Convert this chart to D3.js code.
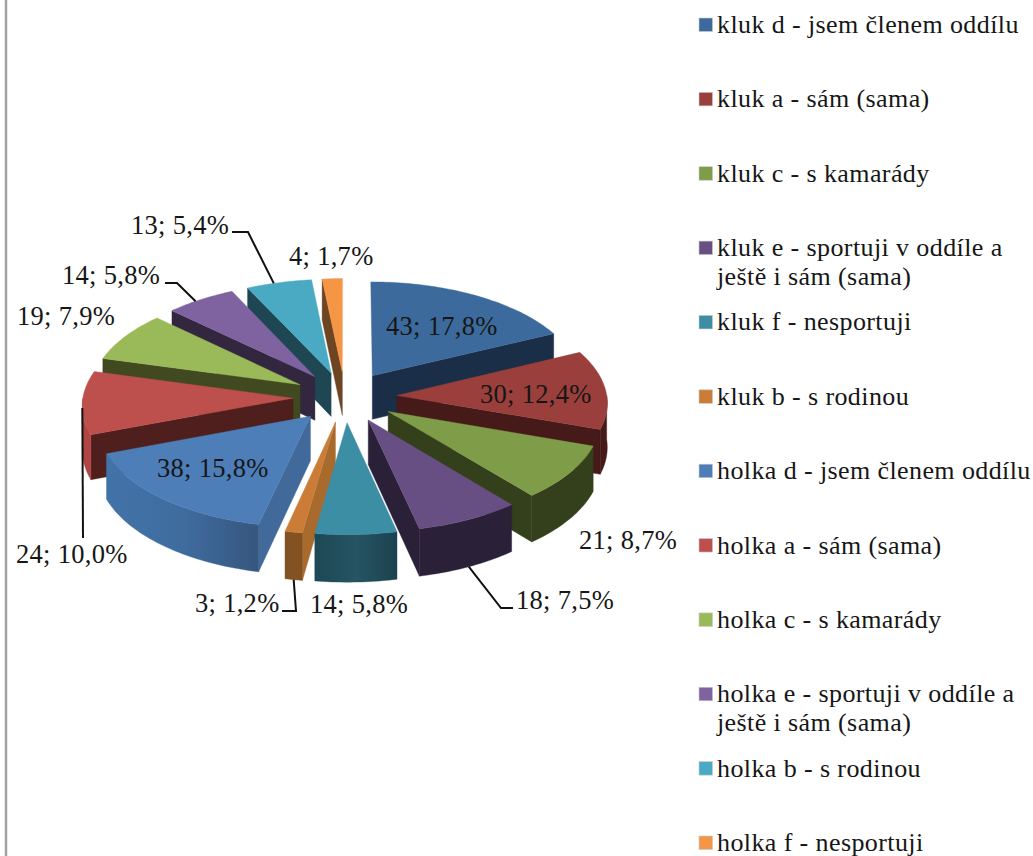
<!DOCTYPE html>
<html>
<head>
<meta charset="utf-8">
<style>
html,body{margin:0;padding:0;background:#fff;overflow:hidden}
svg{display:block}
text{font-family:"Liberation Serif",serif;fill:#161616}
</style>
<script src="https://cdn.jsdelivr.net/npm/d3@7"></script>
</head>
<body>
<svg id="chart" width="1033" height="856"></svg>
<script>
// Answers, in clockwise drawing order starting at twelve o'clock
const categories = [
  "kluk d - jsem členem oddílu",
  "kluk a - sám (sama)",
  "kluk c - s kamarády",
  "kluk e - sportuji v oddíle a\nještě i sám (sama)",
  "kluk f - nesportuji",
  "kluk b - s rodinou",
  "holka d - jsem členem oddílu",
  "holka a - sám (sama)",
  "holka c - s kamarády",
  "holka e - sportuji v oddíle a\nještě i sám (sama)",
  "holka b - s rodinou",
  "holka f - nesportuji"
];
const counts = [43, 30, 21, 18, 14, 3, 38, 24, 19, 14, 13, 4];
const percentLabels = ["17,8", "12,4", "8,7", "7,5", "5,8", "1,2", "15,8", "10,0", "7,9", "5,8", "5,4", "1,7"];

const topColors  = ["#3d6a9c","#9a3f3c","#7f9c48","#684f83","#3c8ea4","#cb7c37","#4d7eb8","#bd4f4c","#9aba59","#7f63a0","#4aaac4","#f59647"];
const sideColors = ["#1b2e47","#451a18","#34401c","#2a2038","#1e4552","#a96a2e","#41699a","#4f1f1d","#40491f","#33263f","#1f4653","#6d4522"];
const rimColors  = ["#1b2e47","#451a18","#34401c","#2a2038","url(#rim4)","#835222","url(#rim6)","#b04643","#40491f","#33263f","#1f4653","#6d4522"];

// Back-to-front painting order of the exploded wedges
const paintOrder = [0, 11, 10, 9, 8, 1, 7, 2, 6, 3, 5, 4];

// Projection of the tilted disc
const cx = 345, cy = 397, R = 210, explode = 52, tilt = 0.486, depth = 44, persp = 0.06;

const pie = d3.pie().sort(null).value(d => d);
const arcs = pie(counts);

function project(a, theta, r, h) {
  const mid = (a.startAngle + a.endAngle) / 2;
  const u = r * Math.sin(theta) + explode * Math.sin(mid);
  const v = r * Math.cos(theta) + explode * Math.cos(mid);
  const s = 1 / (1 + persp * v / R);
  return [cx + u * s, cy - v * tilt * s + h * depth * s];
}

const svg = d3.select("#chart");
const line = d3.line();

const defs = svg.append("defs");
function gradient(id, stops) {
  const g = defs.append("linearGradient").attr("id", id);
  stops.forEach(([o, c]) => g.append("stop").attr("offset", o).attr("stop-color", c));
}
gradient("rim4", [[0, "#1d4855"], [0.5, "#265463"], [1, "#1c424f"]]);
gradient("rim6", [[0, "#4273a8"], [0.5, "#3f6c9f"], [1, "#36567e"]]);

// Page rule at the left edge
svg.append("line").attr("x1", 6).attr("x2", 6).attr("y1", 0).attr("y2", 856)
  .attr("stroke", "#a3a3a3").attr("stroke-width", 2.5);

function arcPoints(a, from, to, h) {
  const n = Math.max(2, Math.ceil((to - from) / 0.02));
  return d3.range(n + 1).map(k => project(a, from + (to - from) * k / n, R, h));
}

const pieLayer = svg.append("g");
paintOrder.forEach(i => {
  const a = arcs[i], g = pieLayer.append("g");
  const s0 = a.startAngle, s1 = a.endAngle;
  const fill = (pts, c) => g.append("path").attr("d", line(pts) + "Z").attr("fill", c).attr("stroke", c).attr("stroke-width", 0.4);

  // Radial walls that face the viewer
  if (Math.sin(s0) < 0) fill([project(a, s0, 0, 0), project(a, s0, R, 0), project(a, s0, R, 1), project(a, s0, 0, 1)], sideColors[i]);
  if (Math.sin(s1) > 0) fill([project(a, s1, 0, 0), project(a, s1, R, 0), project(a, s1, R, 1), project(a, s1, 0, 1)], sideColors[i]);

  // Outer rim, front half of the disc only
  const lo = Math.max(s0, Math.PI / 2), hi = Math.min(s1, 3 * Math.PI / 2);
  if (hi > lo) fill(arcPoints(a, lo, hi, 0).concat(arcPoints(a, lo, hi, 1).reverse()), rimColors[i]);

  // Top face
  fill([project(a, s0, 0, 0)].concat(arcPoints(a, s0, s1, 0)), topColors[i]);
});

// Data labels
const labelPos = [[386,335],[480,403],[579,549],[516,609],[310,613],[195,612],[157,477],[16,563],[17,325],[62,284],[131,234],[289,265]];
svg.append("g").selectAll("text").data(counts).join("text")
  .attr("x", (d, i) => labelPos[i][0])
  .attr("y", (d, i) => labelPos[i][1])
  .attr("font-size", 26.5)
  .attr("letter-spacing", 0.3)
  .text((d, i) => `${d}; ${percentLabels[i]}%`);

// Leader lines run from a point on the wedge through their elbows to the label
const leaders = [
  {slice: 10, frac: 0.42, h: 0, path: [[248,232],[232,232]]},
  {slice: 9,  frac: 0.42, h: 0, path: [[177,283],[165,283]]},
  {slice: 7,  frac: 0.42, h: 0, path: [[83,538]]},
  {slice: 5,  frac: 0.5,  h: 1, path: [[296,611],[282,611]]},
  {slice: 3,  frac: 0.5,  h: 1, path: [[501,608],[513,608]]}
];
svg.append("g").selectAll("path").data(leaders).join("path")
  .attr("fill", "none").attr("stroke", "#111").attr("stroke-width", 2)
  .attr("d", d => {
    const a = arcs[d.slice];
    const p = project(a, a.startAngle + (a.endAngle - a.startAngle) * d.frac, R, d.h);
    return line([p].concat(d.path));
  });

// Legend
const legendY = d3.scalePoint().domain(d3.range(categories.length)).range([25, 843]);
const legend = svg.append("g").selectAll("g").data(categories).join("g")
  .attr("transform", (d, i) => `translate(0,${legendY(i)})`);
legend.append("rect").attr("x", 699).attr("y", -7).attr("width", 13.5).attr("height", 13.5)
  .attr("fill", (d, i) => topColors[i]).attr("stroke", "#c9c9c9").attr("stroke-width", 0.6);
legend.each(function(d) {
  d.split("\n").forEach((t, k) => {
    d3.select(this).append("text").attr("x", 717).attr("y", 8 + k * 29)
      .attr("font-size", 26).attr("letter-spacing", 0.4).text(t);
  });
});
</script>
</body>
</html>
